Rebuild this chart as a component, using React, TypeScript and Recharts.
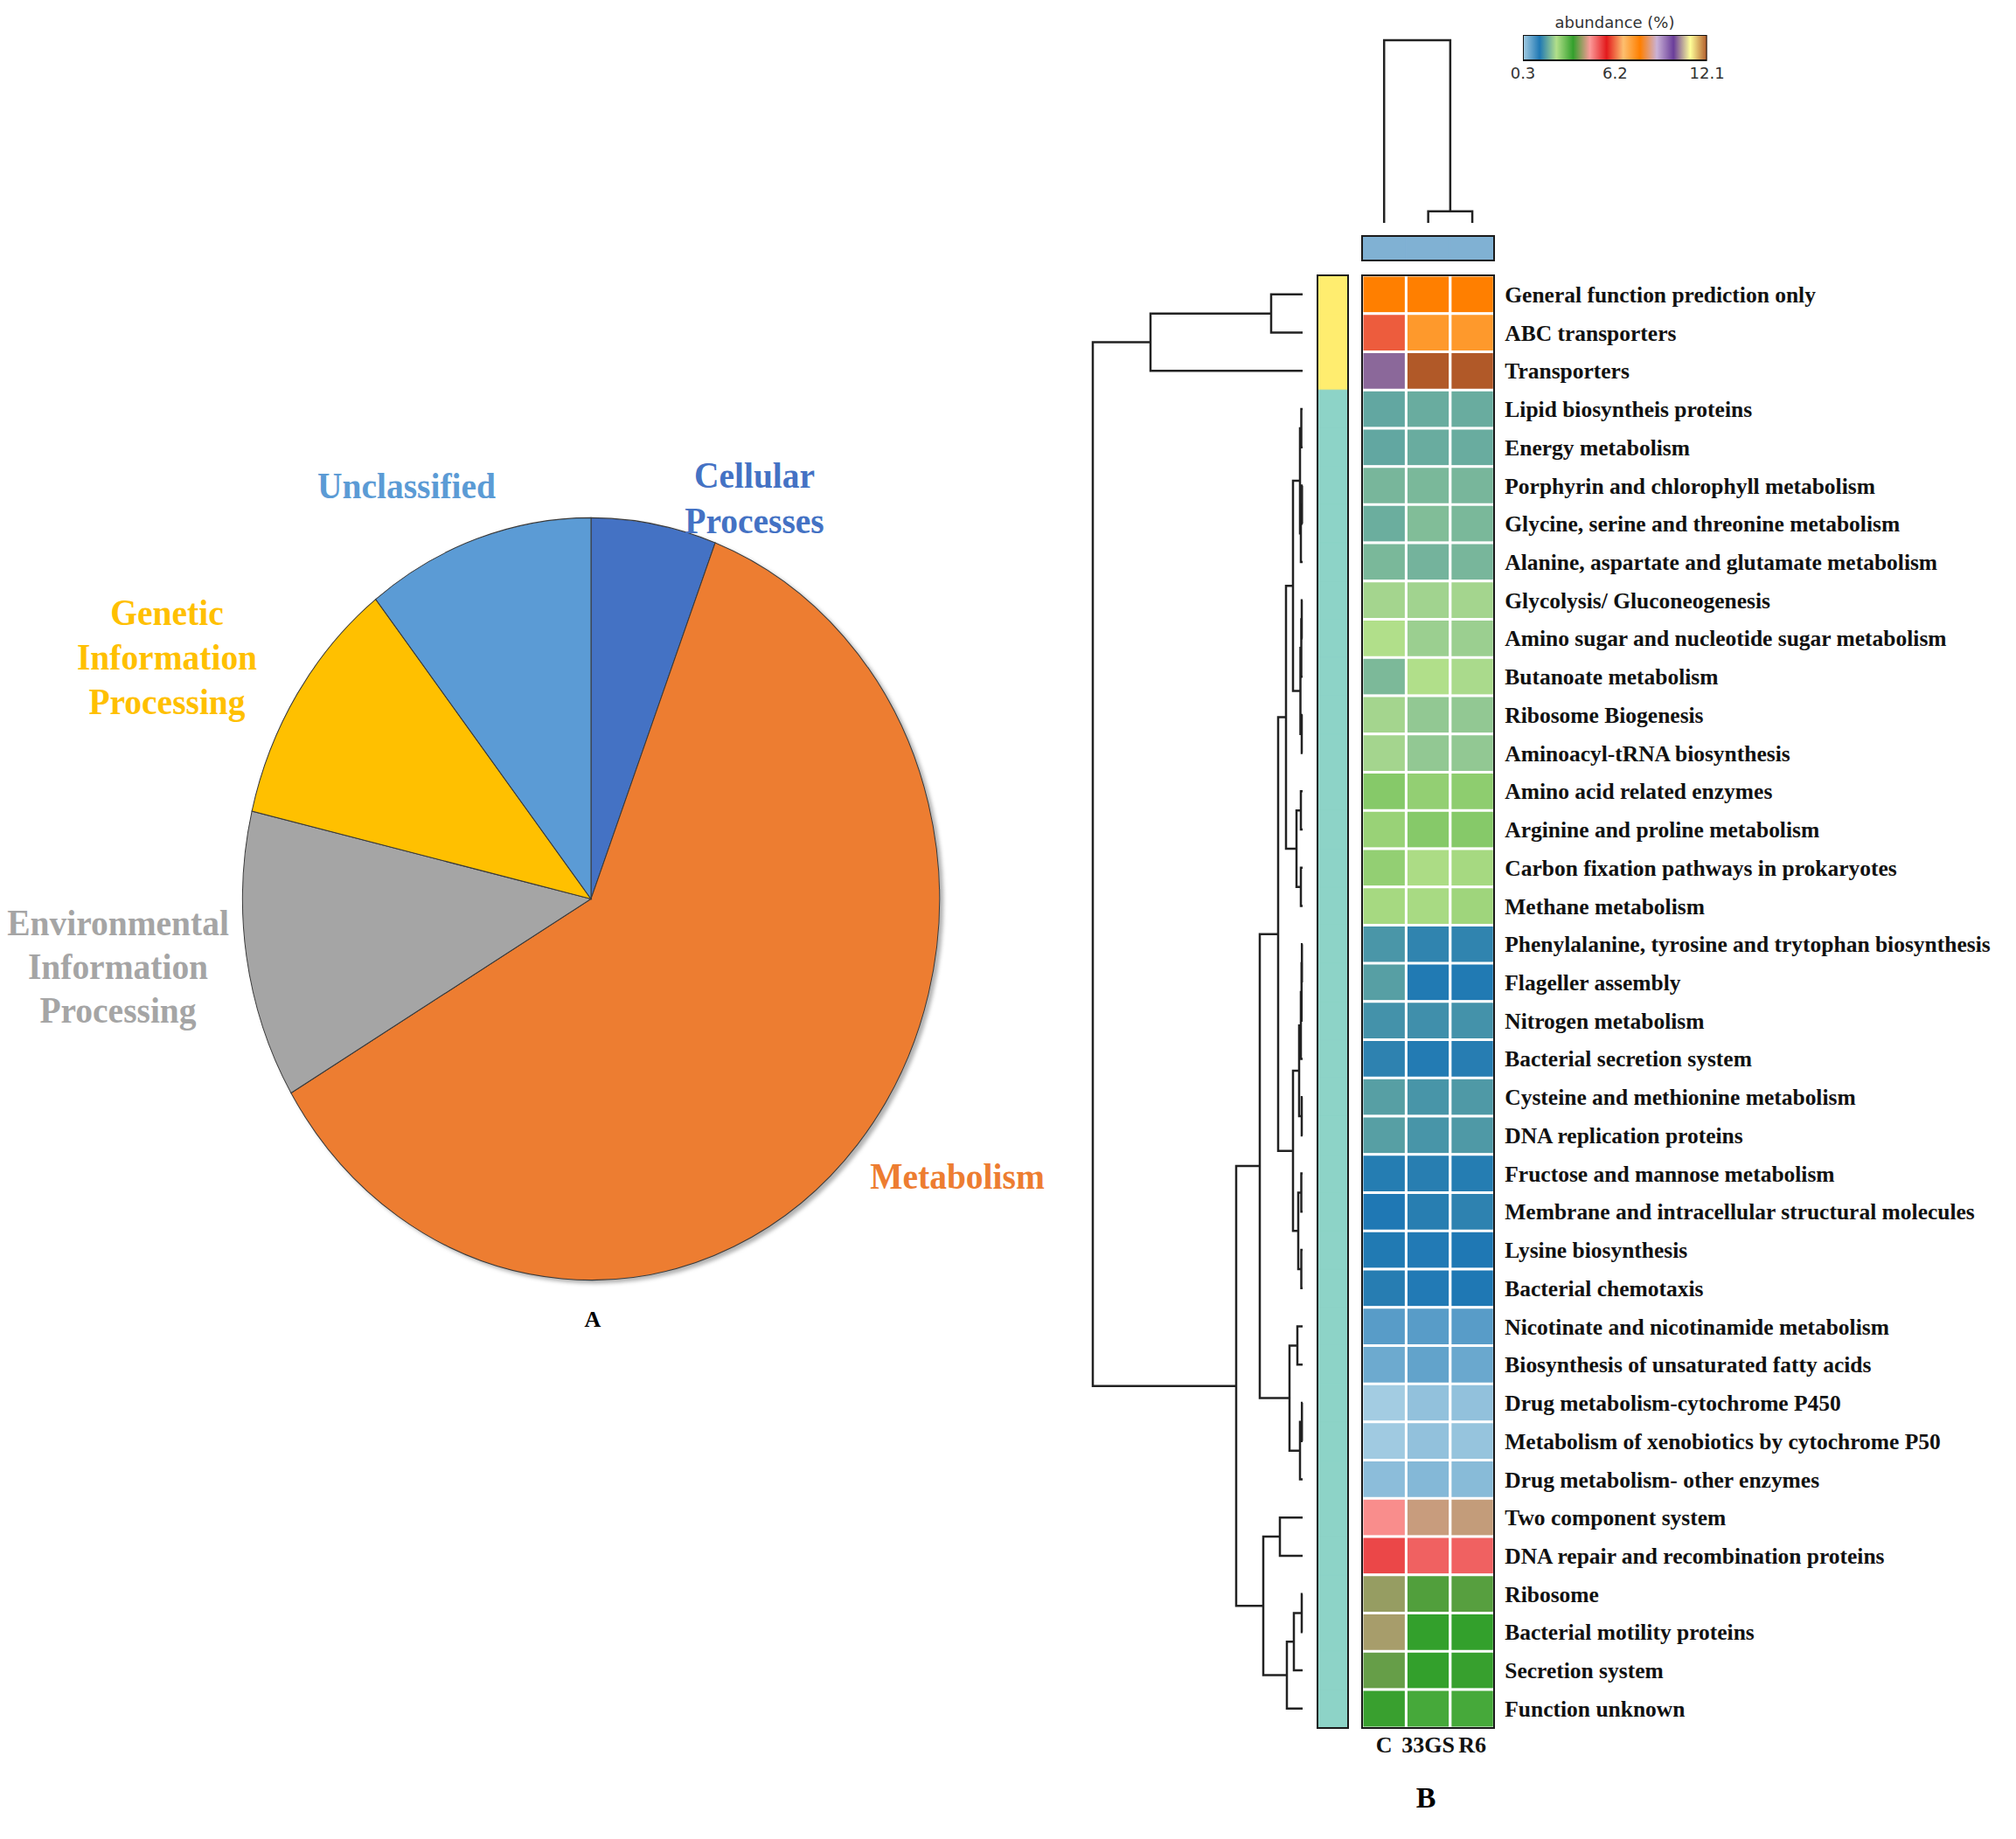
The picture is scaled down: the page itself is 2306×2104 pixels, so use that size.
import {
  Bar,
  BarChart,
  Cell,
  Pie,
  PieChart,
  Scatter,
  ScatterChart,
  XAxis,
  YAxis,
} from 'recharts';

const serif = '"Liberation Serif", "Times New Roman", serif';
const sans = '"DejaVu Sans", Verdana, sans-serif';

// ---- panel A: pie of KEGG level-1 categories ----
const pieCategories = [
  'Cellular Processes',
  'Metabolism',
  'Environmental Information Processing',
  'Genetic Information Processing',
  'Unclassified',
];
const pieShares = [5.8, 60.7, 12.2, 10.7, 10.6];
const pieColors = ['#4472C4', '#ED7D31', '#A5A5A5', '#FFC000', '#5B9BD5'];

// ---- panel B: heatmap ----
const samples = ['C', '33GS', 'R6'];
const pathways = [
  'General function prediction only',
  'ABC transporters',
  'Transporters',
  'Lipid biosyntheis proteins',
  'Energy metabolism',
  'Porphyrin and chlorophyll metabolism',
  'Glycine, serine  and threonine metabolism',
  'Alanine, aspartate and glutamate metabolism',
  'Glycolysis/ Gluconeogenesis',
  'Amino sugar and nucleotide sugar metabolism',
  'Butanoate metabolism',
  'Ribosome Biogenesis',
  'Aminoacyl-tRNA biosynthesis',
  'Amino acid related enzymes',
  'Arginine and proline metabolism',
  'Carbon fixation pathways in prokaryotes',
  'Methane metabolism',
  'Phenylalanine, tyrosine and trytophan biosynthesis',
  'Flageller assembly',
  'Nitrogen metabolism',
  'Bacterial secretion system',
  'Cysteine and methionine metabolism',
  'DNA replication proteins',
  'Fructose and mannose metabolism',
  'Membrane and intracellular structural molecules',
  'Lysine biosynthesis',
  'Bacterial chemotaxis',
  'Nicotinate and nicotinamide metabolism',
  'Biosynthesis of unsaturated fatty acids',
  'Drug metabolism-cytochrome P450',
  'Metabolism of xenobiotics by cytochrome P50',
  'Drug metabolism- other enzymes',
  'Two component system',
  'DNA repair and recombination proteins',
  'Ribosome',
  'Bacterial motility proteins',
  'Secretion system',
  'Function unknown',
];

const abundanceC = [
  7.81, 6.09, 10.19, 1.86, 1.86, 2.02, 1.93, 2.04, 2.34, 2.45, 2.05, 2.34, 2.34,
  2.82, 2.66, 2.71, 2.55, 1.69, 1.78, 1.64, 1.48, 1.78, 1.78, 1.42, 1.37, 1.39,
  1.43, 0.92, 0.75, 0.32, 0.35, 0.51, 4.7, 5.29, 4.05, 4.14, 3.79, 3.55,
];
const abundance33GS = [
  7.81, 7.38, 12.1, 1.91, 1.91, 2.04, 2.09, 1.99, 2.32, 2.28, 2.45, 2.21, 2.21,
  2.71, 2.82, 2.5, 2.53, 1.5, 1.39, 1.61, 1.4, 1.67, 1.67, 1.44, 1.44, 1.35,
  1.35, 0.92, 0.84, 0.46, 0.46, 0.57, 4.32, 5.07, 3.68, 3.52, 3.52, 3.36,
];
const abundanceR6 = [
  7.81, 7.38, 12.1, 1.91, 1.91, 2.02, 2.04, 2.02, 2.34, 2.28, 2.39, 2.21, 2.21,
  2.75, 2.82, 2.55, 2.61, 1.5, 1.39, 1.64, 1.43, 1.72, 1.72, 1.42, 1.48, 1.37,
  1.37, 0.92, 0.78, 0.46, 0.43, 0.54, 4.29, 5.07, 3.71, 3.52, 3.54, 3.36,
];

// row cluster membership (side colour strip)
const pathwayGroup = [
  0, 0, 0, 1, 1, 1, 1, 1, 1, 1, 1, 1, 1, 1, 1, 1, 1, 1, 1, 1, 1, 1, 1, 1, 1, 1,
  1, 1, 1, 1, 1, 1, 1, 1, 1, 1, 1, 1,
];
const groupColors = ['#ffed6f', '#8dd3c7'];

// hierarchical merges [a, b, height]; ids >= n refer to earlier merges
const rowMerges: [number, number, number][] = [
  [0, 1, 36], [38, 2, 174], [3, 4, 1.5], [5, 6, 0.7], [41, 7, 2], [40, 42, 3],
  [8, 9, 1], [44, 10, 1.5], [11, 12, 1], [45, 46, 2.5], [43, 47, 11],
  [13, 14, 2], [15, 16, 2], [49, 50, 7], [48, 51, 19], [17, 18, 0.8],
  [53, 19, 1.2], [54, 20, 2], [21, 22, 1], [55, 56, 4], [23, 24, 1.5],
  [25, 26, 1.5], [58, 59, 5], [57, 60, 11], [52, 61, 28], [27, 28, 6],
  [29, 30, 0.8], [64, 31, 3], [63, 65, 15], [62, 66, 49], [32, 33, 26],
  [34, 35, 1], [69, 36, 10], [70, 37, 18], [68, 71, 45], [67, 72, 76],
  [39, 73, 240],
];
const sampleMerges: [number, number, number][] = [
  [1, 2, 13.3],
  [0, 3, 209],
];

const colorbarTicks = [0.3, 6.2, 12.1];
const pairedPalette = [
  '#a6cee3', '#1f78b4', '#b2df8a', '#33a02c', '#fb9a99', '#e31a1c',
  '#fdbf6f', '#ff7f00', '#cab2d6', '#6a3d9a', '#ffff99', '#b15928',
];

const hexToRgb = (hex: string) => [
  parseInt(hex.slice(1, 3), 16),
  parseInt(hex.slice(3, 5), 16),
  parseInt(hex.slice(5, 7), 16),
];

const abundanceColor = (v: number) => {
  const lo = colorbarTicks[0];
  const hi = colorbarTicks[colorbarTicks.length - 1];
  const t = ((v - lo) / (hi - lo)) * (pairedPalette.length - 1);
  const i = Math.max(0, Math.min(pairedPalette.length - 2, Math.floor(t)));
  const f = Math.max(0, Math.min(1, t - i));
  const a = hexToRgb(pairedPalette[i]);
  const b = hexToRgb(pairedPalette[i + 1]);
  const c = a.map((x, k) => Math.round(x + (b[k] - x) * f));
  return `rgb(${c[0]},${c[1]},${c[2]})`;
};

// elbow links of a dendrogram, leaves at position i + 0.5
const dendroLinks = (merges: [number, number, number][], nLeaves: number) => {
  const nodes = Array.from({ length: nLeaves }, (_, i) => ({ p: i + 0.5, h: 0 }));
  return merges.map(([a, b, h]) => {
    const A = nodes[a];
    const B = nodes[b];
    nodes.push({ p: (A.p + B.p) / 2, h });
    return [
      { p: A.p, h: A.h },
      { p: A.p, h },
      { p: B.p, h },
      { p: B.p, h: B.h },
    ];
  });
};

const pieData = pieCategories.map((name, i) => ({ name, value: pieShares[i] }));
const heatRows = pathways.map((name, i) => ({
  name,
  cSlot: 1,
  gsSlot: 1,
  r6Slot: 1,
  group: pathwayGroup[i],
}));
const sampleRows = samples.map((name) => ({ name, slot: 1 }));
const colorbarRows = [
  { name: 'abundance', range: [colorbarTicks[0], colorbarTicks[colorbarTicks.length - 1]] },
];
const rowLinks = dendroLinks(rowMerges, pathways.length);
const sampleLinks = dendroLinks(sampleMerges, samples.length);

const heatSeries = [
  { slot: 'cSlot', values: abundanceC },
  { slot: 'gsSlot', values: abundance33GS },
  { slot: 'r6Slot', values: abundanceR6 },
];

// layout (page pixels)
const HEAT_LEFT = 1557.7;
const HEAT_TOP = 315;
const HEAT_W = 151.3;
const HEAT_H = 1661.7;
const KEY_LEFT = 1741.7;
const KEY_W = 210.6;

const pieLabel = (
  text: string[],
  color: string,
  cx: number,
  cy: number,
  lineHeight = 51,
) => (
  <div
    style={{
      position: 'absolute',
      left: cx,
      top: cy,
      transform: 'translate(-50%, -50%) scaleX(0.94)',
      fontFamily: serif,
      fontWeight: 700,
      fontSize: 42,
      lineHeight: `${lineHeight}px`,
      color,
      textAlign: 'center',
      whiteSpace: 'nowrap',
    }}
  >
    {text.map((t) => (
      <div key={t}>{t}</div>
    ))}
  </div>
);

const box = (left: number, top: number, width: number, height: number) => (
  <div
    style={{
      position: 'absolute',
      left: left - 1,
      top: top - 1,
      width: width + 2,
      height: height + 2,
      border: '2px solid #1a1a1a',
      boxSizing: 'border-box',
      pointerEvents: 'none',
    }}
  />
);

export default function App() {
  return (
    <div
      style={{
        position: 'relative',
        width: 2306,
        height: 2104,
        margin: -8,
        background: '#fff',
        overflow: 'hidden',
      }}
    >
      {/* A: pie, stretched vertically into an ellipse */}
      <div
        style={{
          position: 'absolute',
          left: 260.6,
          top: 613,
          width: 820,
          height: 820,
          transform: 'scaleY(1.094)',
          transformOrigin: '50% 50%',
          filter: 'drop-shadow(4px 3px 2px rgba(0,0,0,0.3))',
        }}
      >
        <PieChart width={820} height={820}>
          <Pie
            data={pieData}
            dataKey="value"
            nameKey="name"
            cx={410}
            cy={410}
            outerRadius={398.6}
            startAngle={90}
            endAngle={-270}
            stroke="#3a3a3a"
            strokeWidth={1}
            isAnimationActive={false}
          >
            {pieData.map((d, i) => (
              <Cell key={d.name} fill={pieColors[i]} />
            ))}
          </Pie>
        </PieChart>
      </div>
      {pieLabel(['Unclassified'], pieColors[4], 465, 556)}
      {pieLabel(['Cellular', 'Processes'], pieColors[0], 863, 570, 52)}
      {pieLabel(['Genetic', 'Information', 'Processing'], pieColors[3], 191, 752)}
      {pieLabel(['Environmental', 'Information', 'Processing'], pieColors[2], 135, 1106, 50)}
      {pieLabel(['Metabolism'], pieColors[1], 1095, 1346)}
      <div
        style={{
          position: 'absolute',
          left: 678,
          top: 1510,
          transform: 'translate(-50%, -50%)',
          fontFamily: serif,
          fontWeight: 700,
          fontSize: 26,
        }}
      >
        A
      </div>

      {/* B: colour key */}
      <div
        style={{
          position: 'absolute',
          left: 1847,
          top: 15.5,
          transform: 'translateX(-50%)',
          fontFamily: sans,
          fontSize: 18,
          lineHeight: '20px',
          color: '#333',
          whiteSpace: 'nowrap',
        }}
      >
        abundance (%)
      </div>
      <div style={{ position: 'absolute', left: KEY_LEFT - 30, top: 40 }}>
        <BarChart
          layout="vertical"
          width={KEY_W + 60}
          height={29.3 + 34}
          data={colorbarRows}
          barCategoryGap={0}
          margin={{ top: 0, right: 30, bottom: 0, left: 30 }}
        >
          <defs>
            <linearGradient id="pairedScale" x1="0" y1="0" x2="1" y2="0">
              {pairedPalette.map((c, i) => (
                <stop key={c} offset={i / (pairedPalette.length - 1)} stopColor={c} />
              ))}
            </linearGradient>
          </defs>
          <XAxis
            type="number"
            domain={[colorbarTicks[0], colorbarTicks[colorbarTicks.length - 1]]}
            ticks={colorbarTicks}
            allowDataOverflow
            axisLine={false}
            tickLine={false}
            tickSize={0}
            tickMargin={8}
            height={34}
            interval={0}
            tick={{ fontFamily: sans, fontSize: 18, fill: '#333' }}
          />
          <YAxis type="category" dataKey="name" hide />
          <Bar
            dataKey="range"
            fill="url(#pairedScale)"
            stroke="#111"
            strokeWidth={2}
            isAnimationActive={false}
          />
        </BarChart>
      </div>

      {/* B: sample dendrogram */}
      <div style={{ position: 'absolute', left: HEAT_LEFT - 3, top: 46 - 3 }}>
        <ScatterChart
          width={HEAT_W + 6}
          height={209 + 6}
          margin={{ top: 3, right: 3, bottom: 3, left: 3 }}
        >
          <XAxis type="number" dataKey="p" domain={[0, 3]} hide />
          <YAxis type="number" dataKey="h" domain={[0, 209]} hide />
          {sampleLinks.map((pts, i) => (
            <Scatter
              key={i}
              data={pts}
              line={{ stroke: '#222', strokeWidth: 2.5 }}
              lineType="joint"
              shape={() => <g />}
              isAnimationActive={false}
            />
          ))}
        </ScatterChart>
      </div>

      {/* B: sample group strip */}
      <div style={{ position: 'absolute', left: HEAT_LEFT, top: 270 }}>
        <BarChart
          width={HEAT_W}
          height={28}
          data={sampleRows}
          barCategoryGap={0}
          margin={{ top: 0, right: 0, bottom: 0, left: 0 }}
        >
          <XAxis dataKey="name" hide />
          <YAxis type="number" domain={[0, 1]} hide />
          <Bar
            dataKey="slot"
            fill="#80b1d3"
            stroke="#80b1d3"
            isAnimationActive={false}
          />
        </BarChart>
      </div>
      {box(HEAT_LEFT, 270, HEAT_W, 28)}

      {/* B: pathway dendrogram */}
      <div style={{ position: 'absolute', left: 1246, top: HEAT_TOP }}>
        <ScatterChart
          width={250}
          height={HEAT_H}
          margin={{ top: 0, right: 6, bottom: 0, left: 4 }}
        >
          <XAxis type="number" dataKey="h" domain={[0, 240]} reversed hide />
          <YAxis type="number" dataKey="p" domain={[0, pathways.length]} reversed hide />
          {rowLinks.map((pts, i) => (
            <Scatter
              key={i}
              data={pts}
              line={{ stroke: '#222', strokeWidth: 2.5 }}
              lineType="joint"
              shape={() => <g />}
              isAnimationActive={false}
            />
          ))}
        </ScatterChart>
      </div>

      {/* B: pathway group strip */}
      <div style={{ position: 'absolute', left: 1506.7, top: HEAT_TOP }}>
        <BarChart
          layout="vertical"
          width={35}
          height={HEAT_H}
          data={heatRows}
          barCategoryGap={0}
          margin={{ top: 0, right: 0, bottom: 0, left: 0 }}
        >
          <XAxis type="number" domain={[0, 1]} hide />
          <YAxis type="category" dataKey="name" hide />
          <Bar dataKey="cSlot" isAnimationActive={false}>
            {heatRows.map((d) => (
              <Cell
                key={d.name}
                fill={groupColors[d.group]}
                stroke={groupColors[d.group]}
                strokeWidth={1}
              />
            ))}
          </Bar>
        </BarChart>
      </div>
      {box(1506.7, HEAT_TOP, 35, HEAT_H)}

      {/* B: heatmap */}
      <div style={{ position: 'absolute', left: HEAT_LEFT, top: HEAT_TOP }}>
        <BarChart
          layout="vertical"
          width={HEAT_W + 600}
          height={HEAT_H + 40}
          data={heatRows}
          barCategoryGap={0}
          margin={{ top: 0, right: 0, bottom: 0, left: 0 }}
        >
          <XAxis
            type="number"
            domain={[0, 3]}
            ticks={[0.5, 1.5, 2.5]}
            tickFormatter={(v: number) => samples[Math.round(v - 0.5)]}
            axisLine={false}
            tickLine={false}
            tickSize={0}
            tickMargin={10}
            height={40}
            interval={0}
            tick={{ fontFamily: serif, fontWeight: 700, fontSize: 26, fill: '#111' }}
          />
          <YAxis
            type="category"
            dataKey="name"
            orientation="right"
            width={600}
            axisLine={false}
            tickLine={false}
            tickSize={0}
            tickMargin={12}
            interval={0}
            tick={{ fontFamily: serif, fontWeight: 700, fontSize: 25.5, fill: '#111' }}
          />
          {heatSeries.map((s) => (
            <Bar
              key={s.slot}
              dataKey={s.slot}
              stackId="cells"
              isAnimationActive={false}
              stroke="#fff"
              strokeWidth={3}
            >
              {s.values.map((v, i) => (
                <Cell key={i} fill={abundanceColor(v)} stroke="#fff" strokeWidth={3} />
              ))}
            </Bar>
          ))}
        </BarChart>
      </div>
      {box(HEAT_LEFT, HEAT_TOP, HEAT_W, HEAT_H)}

      <div
        style={{
          position: 'absolute',
          left: 1631,
          top: 2057,
          transform: 'translate(-50%, -50%)',
          fontFamily: serif,
          fontWeight: 700,
          fontSize: 34,
        }}
      >
        B
      </div>
    </div>
  );
}
